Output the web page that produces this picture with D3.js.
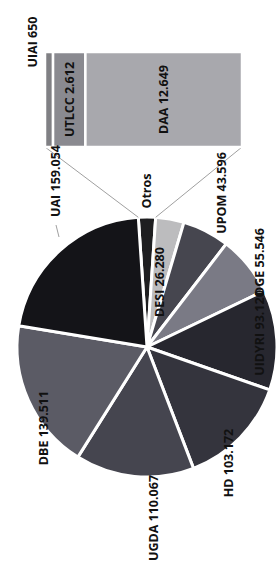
<!DOCTYPE html>
<html>
<head>
<meta charset="utf-8">
<script src="https://cdn.jsdelivr.net/npm/d3@7"></script>
<style>
  body { margin: 0; background: #fff; }
  svg { display: block; }
</style>
</head>
<body>
<svg id="chart" width="276" height="576"></svg>
<script>
// pie slices, clockwise starting at "Otros"
const pieNames  = ["Otros", "DESI", "UPOM", "DGE", "UIDYRI", "HD", "UGDA", "DBE", "UAI"];
const pieValues = [15.911, 26.280, 43.596, 55.546, 93.120, 103.172, 110.067, 139.511, 159.054];
const pieLabels = ["Otros", "DESI 26.280", "UPOM 43.596", "DGE 55.546", "UIDYRI 93.120",
                   "HD 103.172", "UGDA 110.067", "DBE 139.511", "UAI 159.054"];
const pieColors = ["#1e1e20", "#bcbcbe", "#46464f", "#7a7a85", "#27272f",
                   "#34343d", "#45454f", "#5b5b65", "#141418"];

// bar that breaks down "Otros", from top to bottom
const barNames  = ["UIAI", "UTLCC", "DAA"];
const barValues = [0.650, 2.612, 12.649];
const barLabels = ["UIAI 650", "UTLCC 2.612", "DAA 12.649"];
const barColors = ["#808084", "#8a8a90", "#a8a8ad"];

// chart is drawn in its landscape frame and then turned on its side
const W = 576, H = 276;
const svg = d3.select("#chart");
const g = svg.append("g").attr("transform", `translate(0,${W}) rotate(-90)`);

const cx = 229, cy = 147, R = 130;
const font = "'Open Sans', 'Liberation Sans', sans-serif";

// Otros slice centred on the right-hand horizontal, toward the bar
const otrosShare = pieValues[0] / d3.sum(pieValues) * 2 * Math.PI;
const pie = d3.pie().sort(null)
  .startAngle(Math.PI / 2 - otrosShare / 2)
  .endAngle(Math.PI / 2 - otrosShare / 2 + 2 * Math.PI);
const arcs = pie(pieValues);
const arc = d3.arc().innerRadius(0).outerRadius(R);

const pg = g.append("g").attr("transform", `translate(${cx},${cy})`);

// bar geometry
const bar = { x: 429, y: 45, w: 95, h: 197 };
const yBar = d3.scaleLinear().domain([0, d3.sum(barValues)]).range([bar.y, bar.y + bar.h]);
const stackTop = d3.cumsum([0, ...barValues]);

// connector lines from Otros outer corners to the bar's left corners
const o = arcs[0];
[[o.startAngle, yBar(0)], [o.endAngle, yBar(d3.sum(barValues))]].forEach(([a, by]) => {
  g.append("line")
    .attr("x1", cx + R * Math.sin(a)).attr("y1", cy - R * Math.cos(a))
    .attr("x2", bar.x).attr("y2", by)
    .attr("stroke", "#a0a0a0").attr("stroke-width", 1);
});

pg.selectAll("path.slice")
  .data(arcs)
  .join("path")
  .attr("class", "slice")
  .attr("d", arc)
  .attr("fill", (d, i) => pieColors[i])
  .attr("stroke", "#fff")
  .attr("stroke-width", 3)
  .attr("stroke-linejoin", "round");

// stacked bar
g.selectAll("rect.seg")
  .data(barValues)
  .join("rect")
  .attr("class", "seg")
  .attr("x", bar.x)
  .attr("y", (d, i) => yBar(stackTop[i]))
  .attr("width", bar.w)
  .attr("height", d => yBar(d) - yBar(0))
  .attr("fill", (d, i) => barColors[i])
  .attr("stroke", "#fff")
  .attr("stroke-width", 2.5);

// label positions (offset from pie centre) as Excel placed them
const pieLabelPos = [[156, -1], [65, 12], [154, 74], [85, 112], [14, 112],
                     [-116, 81], [-171, 6], [-81, -104], [166, -92]];

// leader line UAI
g.append("line")
  .attr("x1", cx + 122).attr("y1", cy - 91)
  .attr("x2", cx + 110).attr("y2", cy - 88)
  .attr("stroke", "#a0a0a0").attr("stroke-width", 1);

g.selectAll("text.plab")
  .data(pieLabels)
  .join("text")
  .attr("class", "plab")
  .attr("x", (d, i) => cx + pieLabelPos[i][0])
  .attr("y", (d, i) => cy + pieLabelPos[i][1])
  .attr("text-anchor", "middle")
  .attr("dominant-baseline", "central")
  .attr("font-family", font)
  .attr("font-weight", 700)
  .attr("font-size", 12.5)
  .attr("fill", "#111")
  .text(d => d);

// bar labels: UIAI outside above, others centred in their segment
const barLabelY = [bar.y - 13, null, null];
g.selectAll("text.blab")
  .data(barLabels)
  .join("text")
  .attr("class", "blab")
  .attr("x", (d, i) => i === 0 ? bar.x + 105 : bar.x + bar.w / 2)
  .attr("y", (d, i) => barLabelY[i] !== null ? barLabelY[i]
                        : (yBar(stackTop[i]) + yBar(stackTop[i + 1])) / 2)
  .attr("text-anchor", "middle")
  .attr("dominant-baseline", "central")
  .attr("font-family", font)
  .attr("font-weight", 700)
  .attr("font-size", 12.5)
  .attr("fill", "#111")
  .text(d => d);
</script>
</body>
</html>
